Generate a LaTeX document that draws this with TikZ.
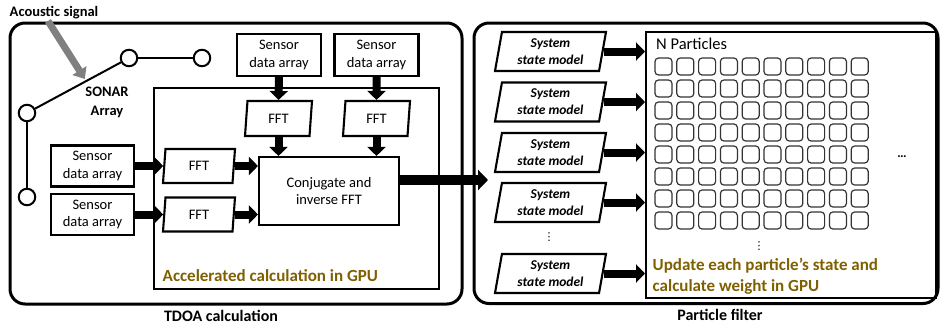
\documentclass[tikz,border=0pt]{standalone}
\usepackage{fontspec}
\setmainfont{Carlito}
\newfontfamily\dejavu{DejaVu Sans}
\usetikzlibrary{arrows.meta,shapes.geometric,calc}
\definecolor{gpuolive}{RGB}{127,96,0}
\definecolor{sigray}{RGB}{128,128,128}
\newcommand\fsz[2]{\fontsize{#1}{#2}\selectfont}
\tikzset{
  outerbox/.style={draw, line width=3pt, rounded corners=15pt, inner sep=0pt},
  sbox/.style={draw, line width=2.1pt, minimum width=83pt, minimum height=41pt, inner sep=0pt, align=center, font=\fsz{14.5}{17.7}},
  para/.style={trapezium, trapezium left angle=75, trapezium right angle=105, trapezium stretches body=true, draw, line width=2.1pt, inner sep=0pt, align=center},
  fftbox/.style={para, minimum width=67pt, minimum height=35pt, font=\fsz{14.5}{17.7}},
  ssm/.style={para, minimum width=111pt, minimum height=39pt, font=\fsz{13.5}{17}\bfseries\itshape},
  bar/.style={line width=8pt, -{Triangle[length=9pt,width=18pt]}},
  bigbar/.style={line width=10pt, -{Triangle[length=10pt,width=20pt]}},
  cell/.style={draw=black!80, line width=1.2pt, rounded corners=3.5pt, minimum size=17pt, inner sep=0pt},
  sonar/.style={circle, draw, line width=2pt, minimum size=16.5pt, inner sep=0pt},
  lbl/.style={inner sep=0pt, font=\fsz{16}{19}\bfseries},
  dotsv/.style={inner sep=0pt, font=\dejavu\fsz{11}{13}},
}
\begin{document}
\begin{tikzpicture}[x=1pt,y=-1pt]
\useasboundingbox (0,0) rectangle (940,327);
% outer containers
\node[outerbox, minimum width=452pt, minimum height=281pt] (tdoa) at (236,163.5) {};
\node[outerbox, minimum width=464pt, minimum height=280.5pt] (pf) at (706,163.25) {};
\node[lbl] (tdoalbl) at (221,316) {TDOA calculation};
\node[lbl] (pflbl) at (720,315) {Particle filter};

% GPU box (left)
\node[draw, line width=2pt, minimum width=285pt, minimum height=201pt, inner sep=0pt] (gpu) at (296.5,188.5) {};
\node[anchor=west, inner sep=0pt, font=\fsz{17}{21}\bfseries, text=gpuolive] (gpulbl) at (162.5,276) {Accelerated calculation in GPU};

% acoustic signal & sonar array
\node[inner sep=0pt, font=\fsz{14.5}{17.7}\bfseries] (acoustic) at (54,13) {Acoustic signal};
\node[sonar] (sa) at (27,113) {};
\node[sonar] (sb) at (129,58) {};
\node[sonar] (sc) at (202,58) {};
\node[sonar] (sd) at (27,197) {};
\draw[line width=2pt] (sa) -- (sb);
\draw[line width=2pt] (sb) -- (sc);
\draw[line width=2pt] (sa) -- (sd);
\node[inner sep=0pt, align=center, font=\fsz{14.5}{18.5}\bfseries] (sonarlbl) at (107,102.5) {SONAR\\Array};
\coordinate (gs) at (48,21);
\coordinate (hit) at ($(sa)!0.58!(sb)$);
\draw[line width=7pt, sigray, -{Triangle[length=10pt,width=16pt]}, shorten >=2.5pt] (gs) -- (hit);

% sensor data arrays
\node[sbox] (s1) at (92.5,166) {Sensor\\data array};
\node[sbox] (s2) at (92.5,214.5) {Sensor\\data array};
\node[sbox, minimum width=84pt, minimum height=42pt] (s3) at (279,55) {Sensor\\data array};
\node[sbox, minimum width=84pt, minimum height=42pt] (s4) at (376.5,55) {Sensor\\data array};

% FFT blocks
\node[fftbox] (ft1) at (278.5,118.5) {FFT};
\node[fftbox] (ft2) at (376.5,118.5) {FFT};
\node[fftbox, minimum width=72pt, minimum height=34pt] (fl1) at (199,166) {FFT};
\node[fftbox, minimum width=72pt, minimum height=34pt] (fl2) at (199,214.5) {FFT};

% conjugate
\node[draw, line width=2.1pt, minimum width=140pt, minimum height=68pt, inner sep=0pt, align=center, font=\fsz{14.5}{17.7}] (conj) at (329,191) {Conjugate and\\inverse FFT};

% arrows left side
\draw[bar] (s1.east) -- (s1.east -| fl1.west);
\draw[bar] (s2.east) -- (s2.east -| fl2.west);
\draw[bar] (fl1.east) -- (fl1.east -| conj.west);
\draw[bar] (fl2.east) -- (fl2.east -| conj.west);
\draw[bar] (s3.south) -- (ft1.north);
\draw[bar] (s4.south) -- (ft2.north);
\draw[bar] (ft1.south) -- (ft1.south |- conj.north);
\draw[bar] (ft2.south) -- (ft2.south |- conj.north);
\coordinate (pfin) at (488,180);
\draw[bigbar] (conj.east |- pfin) -- (pfin);

% particle filter side
\node[draw, line width=2pt, minimum width=290pt, minimum height=266pt, inner sep=0pt] (pbox) at (791,165) {};
\node[anchor=west, inner sep=0pt, font=\fsz{16.5}{19}] (np) at (656,44) {N Particles};
\foreach \r in {0,...,7}{
  \foreach \c in {0,...,9}{
    \node[cell] (c\r-\c) at ({663.5+21.8*\c},{66.5+22*\r}) {};
  }
}
\node[inner sep=0pt, font=\fsz{13}{15}\bfseries] (hdots) at (902,157) {…};
\node[dotsv] (vdots2) at (759,246) {⋮};
\node[anchor=west, inner sep=0pt, align=left, font=\fsz{17}{21}\bfseries, text=gpuolive] (updlbl) at (652.5,276.5) {Update each particle’s state and\\calculate weight in GPU};

\node[ssm] (m1) at (550.5,51.5) {System\\state model};
\node[ssm] (m2) at (550.5,102) {System\\state model};
\node[ssm] (m3) at (550.5,152.5) {System\\state model};
\node[ssm] (m4) at (550.5,202.5) {System\\state model};
\node[ssm] (m5) at (550.5,273.5) {System\\state model};
\node[dotsv] (vdots1) at (549,237) {⋮};
\foreach \m in {m1,m2,m3,m4,m5}{
  \draw[bar] (\m.east) -- (\m.east -| pbox.west);
}
\end{tikzpicture}
\end{document}
